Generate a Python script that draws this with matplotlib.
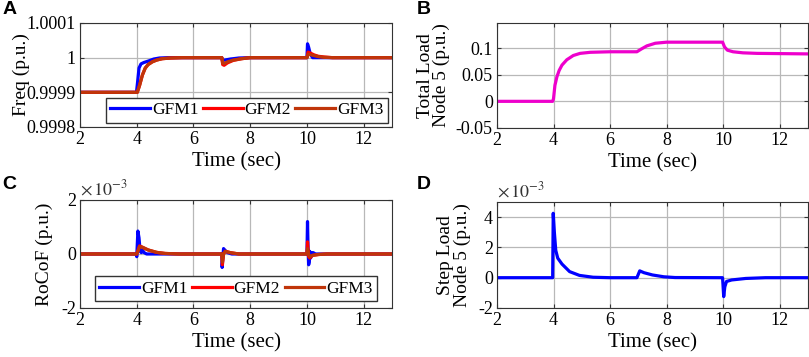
import numpy as np
import matplotlib
matplotlib.use('Agg')
import matplotlib.pyplot as plt
from matplotlib.ticker import FuncFormatter

plt.rcParams['font.family'] = 'Liberation Serif'
plt.rcParams['mathtext.fontset'] = 'stix'
plt.rcParams['axes.unicode_minus'] = False

# panel A: frequency (p.u.)
t_f1 = [2, 3.99, 4.03, 4.08, 4.15, 4.25, 4.4, 4.6, 4.8, 5.1, 7.0, 7.02, 7.1, 7.3, 7.6, 8.0,
        10.0, 10.02, 10.06, 10.12, 10.2, 13]
freq1 = [0.9999, 0.9999, 0.99993, 0.99997, 0.999982, 0.999986, 0.99999, 0.999996, 0.999999, 1.0,
         1.0, 0.999992, 0.999993, 0.999996, 0.999999, 1.0,
         1.0, 1.00004, 1.00003, 1.00001, 1.0, 1.0]
t_f2 = [2, 4.02, 4.1, 4.2, 4.3, 4.4, 4.55, 4.7, 4.9, 5.2, 5.6, 7.0, 7.03, 7.08, 7.2, 7.4, 7.7, 8.0,
        10.0, 10.04, 10.1, 10.25, 10.4, 10.6, 10.9, 13]
freq2 = [0.9999, 0.9999, 0.99992, 0.99995, 0.99997, 0.99998, 0.999988, 0.999993, 0.999997, 0.999999,
         1.0, 1.0, 0.99998, 0.999978, 0.999985, 0.999992, 0.999997, 1.0,
         1.0, 1.000016, 1.000014, 1.000008, 1.000004, 1.000002, 1.0, 1.0]
freq3 = [0.9999, 0.9999, 0.99992, 0.99995, 0.99997, 0.99998, 0.999988, 0.999993, 0.999997, 0.999999,
         1.0, 1.0, 0.999984, 0.999983, 0.999988, 0.999993, 0.999997, 1.0,
         1.0, 1.00001, 1.000009, 1.000006, 1.000003, 1.000001, 1.0, 1.0]

# panel B: total load node 5 (p.u.)
t_load = [2, 3.97, 4.0, 4.05, 4.12, 4.2, 4.3, 4.47, 4.7, 4.94, 5.3, 6.0, 6.95, 7.1, 7.3, 7.6, 8.0,
          9.98, 10.05, 10.15, 10.35, 10.7, 11.2, 13]
load = [0, 0, 0.005, 0.03, 0.046, 0.058, 0.068, 0.078, 0.086, 0.09, 0.092, 0.093, 0.093, 0.098,
        0.104, 0.109, 0.111, 0.111, 0.102, 0.096, 0.093, 0.091, 0.09, 0.089]

# panel C: RoCoF (x1e-3 p.u.)
t_r1 = [2, 3.99, 4.0, 4.04, 4.08, 4.12, 4.16, 4.2, 4.26, 4.35, 4.5, 7.0, 7.01, 7.03, 7.06, 7.1,
        7.2, 7.35, 10.0, 10.02, 10.04, 10.06, 10.08, 10.1, 10.13, 10.17, 10.22, 10.3, 13]
rocof1 = [0, 0, -0.1, 0.85, 0.6, 0.1, 0.05, 0.15, 0.05, 0, 0, 0, -0.5, -0.2, 0.2, 0.15,
          0.05, 0, 0, 1.2, 0.2, -0.4, -0.3, 0.1, -0.15, 0.05, 0.05, 0, 0]
t_r2 = [2, 4.0, 4.05, 4.1, 4.2, 4.4, 4.7, 5.0, 5.5, 7.0, 7.02, 7.06, 7.12, 7.3, 7.6,
        10.0, 10.02, 10.06, 10.1, 10.2, 10.4, 10.7, 13]
rocof2 = [0, 0, 0.15, 0.3, 0.25, 0.15, 0.06, 0.02, 0, 0, -0.4, 0.0, 0.1, 0.05, 0,
          0, 0.45, -0.1, -0.15, -0.05, -0.02, 0, 0]
rocof3 = [0, 0, 0.12, 0.28, 0.25, 0.15, 0.06, 0.02, 0, 0, -0.3, 0.0, 0.1, 0.05, 0,
          0, 0.2, 0.0, -0.1, -0.05, -0.02, 0, 0]

# panel D: step load node 5 (x1e-3 p.u.)
t_step = [2, 3.97, 3.99, 4.03, 4.08, 4.15, 4.3, 4.57, 4.92, 5.4, 6.0, 6.95, 7.05, 7.2, 7.5, 7.9,
          8.3, 9.98, 10.02, 10.06, 10.12, 10.3, 10.8, 11.5, 13]
step = [0, 0, 4.25, 3.0, 1.8, 1.29, 0.9, 0.4, 0.15, 0.03, 0, 0, 0.45, 0.33, 0.18, 0.06,
        0.01, 0, -1.25, -0.6, -0.25, -0.15, -0.05, 0, 0]

blue = '#0000FF'
red = '#FF0000'
brown = '#C0350A'
magenta = '#EE00CC'
lw = 2.3

fig = plt.figure(figsize=(8.09, 3.57), dpi=100)
axA = fig.add_axes([0.0989, 0.6443, 0.3857, 0.2913])
axB = fig.add_axes([0.6143, 0.6415, 0.3844, 0.2941])
axC = fig.add_axes([0.0989, 0.1373, 0.3857, 0.3025])
axD = fig.add_axes([0.6143, 0.1373, 0.3844, 0.2970])

fmt = FuncFormatter(lambda v, p: '{:g}'.format(round(v, 6)))

def style(ax):
    ax.set_xlim(2, 13)
    ax.set_xticks([2, 4, 6, 8, 10, 12])
    ax.grid(True, color='#b8b8b8', linewidth=0.9)
    ax.set_axisbelow(True)
    ax.tick_params(direction='in', length=3, top=True, right=True, labelsize=13,
                   color='#333333', pad=3)
    for s in ax.spines.values():
        s.set_color('#333333')
        s.set_linewidth(0.8)
    ax.set_xlabel('Time (sec)', fontsize=15, labelpad=3)
    ax.yaxis.set_major_formatter(fmt)

leg_kw = dict(ncol=3, prop={'family': 'Liberation Serif', 'size': 12.5}, frameon=True,
              fancybox=False, edgecolor='#333333', borderpad=0.25, handlelength=2.3,
              handletextpad=0.1, columnspacing=0.25, framealpha=1)

# A
axA.plot(t_f1, freq1, color=blue, lw=lw, label='GFM1')
axA.plot(t_f2, freq2, color=red, lw=lw, label='GFM2')
axA.plot(t_f2, freq3, color=brown, lw=lw, label='GFM3')
style(axA)
axA.set_ylim(0.9998, 1.0001)
axA.set_yticks([0.9998, 0.9999, 1.0, 1.0001])
axA.set_ylabel('Freq (p.u.)', fontsize=14)
axA.yaxis.set_label_coords(-0.16, 0.5)
axA.legend(loc='lower right', borderaxespad=0.25, **leg_kw)

# B
axB.plot(t_load, load, color=magenta, lw=lw)
style(axB)
axB.set_ylim(-0.05, 0.147)
axB.set_yticks([-0.05, 0, 0.05, 0.1])
axB.set_ylabel('Total Load\nNode 5 (p.u.)', fontsize=14, linespacing=0.95)
axB.yaxis.set_label_coords(-0.15, 0.5)

# C
axC.plot(t_r1, rocof1, color=blue, lw=lw, label='GFM1')
axC.plot(t_r2, rocof2, color=red, lw=lw, label='GFM2')
axC.plot(t_r2, rocof3, color=brown, lw=lw, label='GFM3')
style(axC)
axC.set_ylim(-2, 2)
axC.set_yticks([-2, 0, 2])
axC.set_ylabel('RoCoF (p.u.)', fontsize=14)
axC.yaxis.set_label_coords(-0.085, 0.5)
axC.legend(loc='lower center', bbox_to_anchor=(0.5, 0.0), borderaxespad=0.4, **leg_kw)
axC.text(0.0, 1.01, r'$\times\,10^{-3}$', transform=axC.transAxes, fontsize=13,
         ha='left', va='bottom', color='#333333')

# D
axD.plot(t_step, step, color=blue, lw=lw)
style(axD)
axD.set_ylim(-2, 5)
axD.set_yticks([-2, 0, 2, 4])
axD.set_ylabel('Step Load\nNode 5 (p.u.)', fontsize=14, linespacing=0.95)
axD.yaxis.set_label_coords(-0.085, 0.5)
axD.text(0.0, 1.01, r'$\times\,10^{-3}$', transform=axD.transAxes, fontsize=13,
         ha='left', va='bottom', color='#333333')

# panel letters
for lab, x, y in [('A', 0.003, 0.998), ('B', 0.515, 0.998), ('C', 0.003, 0.508), ('D', 0.515, 0.508)]:
    fig.text(x, y, lab, fontsize=14, fontweight='bold', family='Liberation Sans',
             ha='left', va='top')

fig.savefig('out.png', dpi=100)
